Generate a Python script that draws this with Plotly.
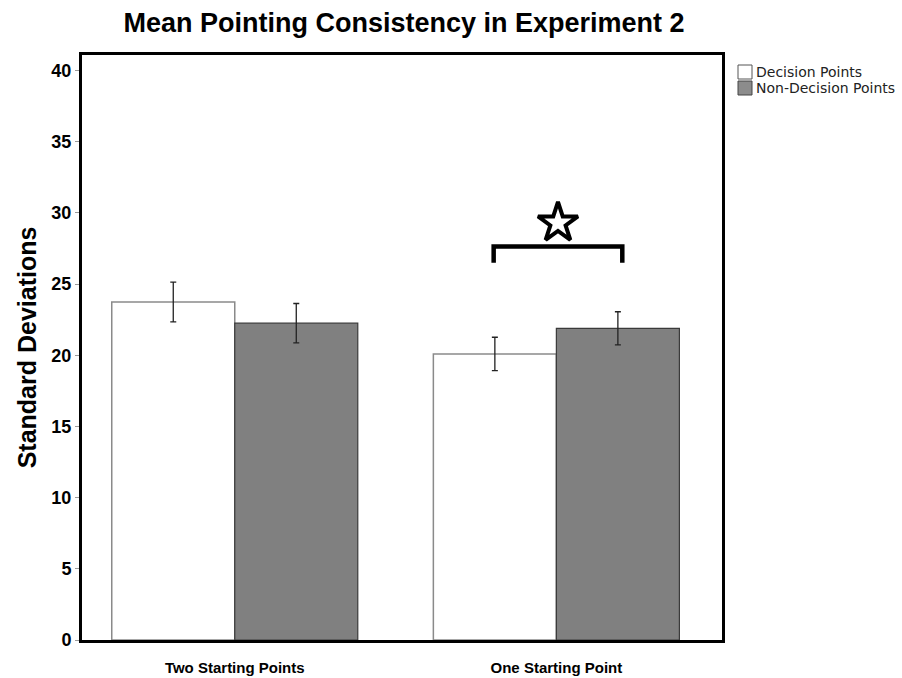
import plotly.graph_objects as go

# Mean pointing consistency (standard deviations) by starting-point condition
categories = ["Two Starting Points", "One Starting Point"]
decision_means = [23.75, 20.1]
decision_err = [1.4, 1.17]
nondecision_means = [22.26, 21.9]
nondecision_err = [1.38, 1.16]
series_names = ["Decision Points", "Non-Decision Points"]
y_ticks = [0, 5, 10, 15, 20, 25, 30, 35, 40]

# significance bracket between the two bars of the second group
bracket_x = [0.805, 1.205]
bracket_top = 27.65
bracket_leg = 26.5
star_y = 29.3

x_idx = list(range(len(categories)))

fig = go.Figure()
fig.add_trace(go.Bar(
    x=x_idx, y=decision_means, name=series_names[0],
    marker=dict(color="white", line=dict(color="#8a8a8a", width=1.5)),
    error_y=dict(type="data", array=decision_err, color="#222", thickness=1.3, width=3),
    showlegend=False,
))
fig.add_trace(go.Bar(
    x=x_idx, y=nondecision_means, name=series_names[1],
    marker=dict(color="#808080", line=dict(color="#3a3a3a", width=1.2)),
    error_y=dict(type="data", array=nondecision_err, color="#222", thickness=1.3, width=3),
    showlegend=False,
))

# bracket
fig.add_trace(go.Scatter(
    x=[bracket_x[0], bracket_x[0], bracket_x[1], bracket_x[1]],
    y=[bracket_leg, bracket_top, bracket_top, bracket_leg],
    mode="lines", line=dict(color="black", width=4.5),
    hoverinfo="skip", showlegend=False,
))
# star
fig.add_trace(go.Scatter(
    x=[sum(bracket_x) / 2], y=[star_y], mode="markers",
    marker=dict(symbol="star", size=30, color="white", line=dict(color="black", width=4)),
    hoverinfo="skip", showlegend=False,
))

# legend drawn at the right of the frame
legend_fill = ["white", "#8c8c8c"]
legend_edge = ["#555", "#444"]
shapes = []
annotations = []
for i, (name, fill, edge) in enumerate(zip(series_names, legend_fill, legend_edge)):
    yc = 72 + i * 16
    shapes.append(dict(type="rect", xref="paper", yref="paper",
                       x0=(738 - 82) / 640, x1=(752 - 82) / 640,
                       y0=(640 - (yc + 7)) / 585, y1=(640 - (yc - 7)) / 585,
                       fillcolor=fill, line=dict(color=edge, width=1)))
    annotations.append(dict(text=name, xref="paper", yref="paper",
                            x=(754 - 82) / 640, y=(640 - yc) / 585,
                            xanchor="left", yanchor="middle", showarrow=False,
                            font=dict(family="DejaVu Sans", size=14, color="#222")))

fig.update_layout(
    width=902, height=678,
    margin=dict(l=82, r=180, t=55, b=38),
    paper_bgcolor="white", plot_bgcolor="white",
    barmode="group", bargap=0.235, bargroupgap=0,
    title=dict(text="<b>Mean Pointing Consistency in Experiment 2</b>",
               x=404 / 902, xanchor="center", y=1 - 23 / 678, yanchor="middle",
               font=dict(family="Liberation Sans", size=27, color="black")),
    shapes=shapes, annotations=annotations,
    showlegend=False,
)
fig.update_xaxes(
    range=[-0.475, 1.515], tickvals=x_idx,
    ticktext=[f"<b>{c}</b>" for c in categories],
    tickfont=dict(family="Liberation Sans", size=15, color="black"),
    ticklabelstandoff=12, automargin=False,
    showline=True, linecolor="black", linewidth=3, mirror=True,
    ticks="", showgrid=False, zeroline=False,
)
fig.update_yaxes(
    range=[0, 41.1], tickvals=y_ticks,
    ticktext=[f"<b>{v}</b>" for v in y_ticks],
    tickfont=dict(family="Liberation Sans", size=18, color="black"),
    title=dict(text="<b>Standard Deviations</b>",
               font=dict(family="Liberation Sans", size=25, color="black"), standoff=8),
    automargin=False,
    showline=True, linecolor="black", linewidth=3, mirror=True,
    ticks="outside", ticklen=4, tickcolor="#999", showgrid=False, zeroline=False,
)

fig.write_html("out.html")
